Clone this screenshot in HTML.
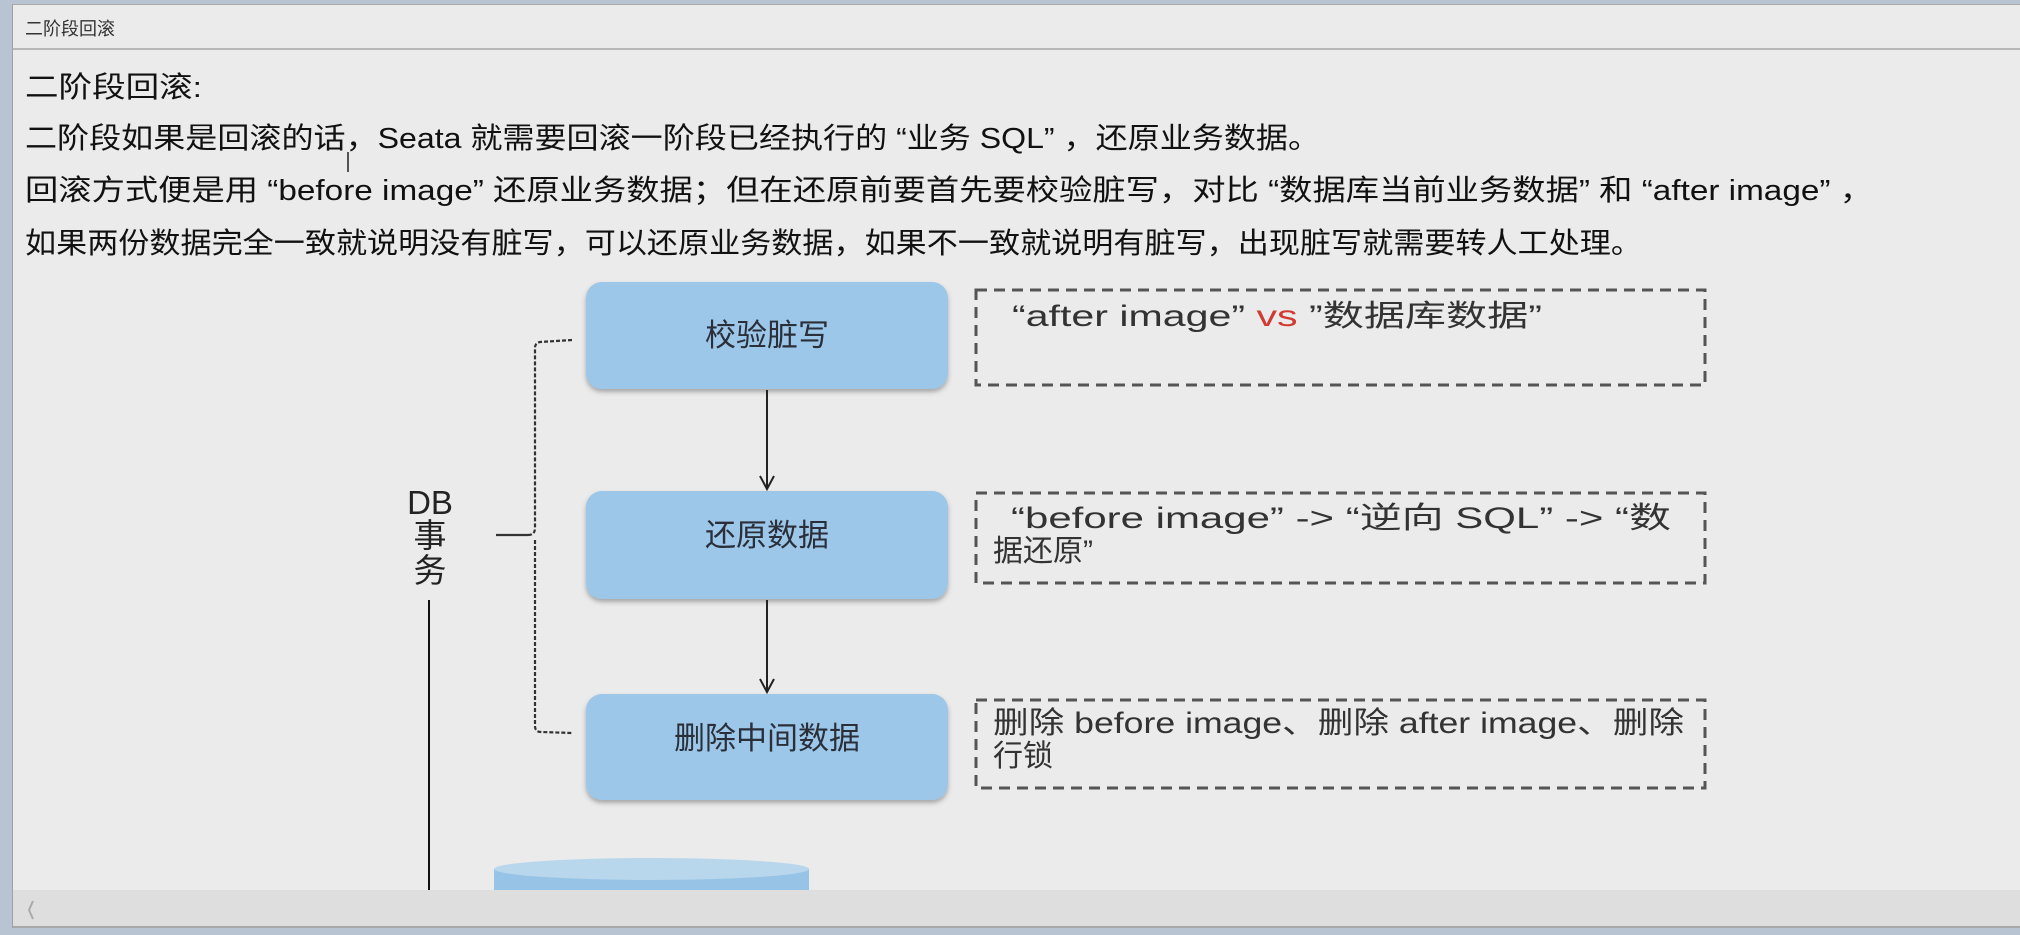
<!DOCTYPE html>
<html><head><meta charset="utf-8"><style>
html,body{margin:0;padding:0;width:2020px;height:935px;overflow:hidden;background:#b9c4d2;}
svg{display:block}
</style></head><body>
<svg width="2020" height="935" viewBox="0 0 2020 935" xmlns="http://www.w3.org/2000/svg" font-family="'Liberation Sans','Noto Sans CJK SC',sans-serif">
<defs>
<filter id="sh" x="-5%" y="-10%" width="110%" height="130%"><feDropShadow dx="0" dy="3" stdDeviation="2.5" flood-color="#555" flood-opacity="0.45"/></filter>
</defs>
<rect x="0" y="0" width="2020" height="935" fill="#b9c4d2"/>
<rect x="12" y="4" width="2008" height="924" fill="#ebebeb"/>
<line x1="12" y1="4.5" x2="2020" y2="4.5" stroke="#a9a9a9"/>
<line x1="12.5" y1="4" x2="12.5" y2="928" stroke="#a0a0a0"/>
<line x1="12" y1="49" x2="2020" y2="49" stroke="#a8a8a8" stroke-width="1.5"/>
<text x="25" y="35" font-size="18" fill="#333">二阶段回滚</text>
<g font-size="29" fill="#111">
<text x="25" y="97" textLength="177" lengthAdjust="spacingAndGlyphs">二阶段回滚:</text>
<text x="25" y="148" textLength="1295" lengthAdjust="spacingAndGlyphs">二阶段如果是回滚的话，Seata 就需要回滚一阶段已经执行的 “业务 SQL” ，还原业务数据。</text>
<text x="25" y="200" textLength="1848" lengthAdjust="spacingAndGlyphs">回滚方式便是用 “before image” 还原业务数据；但在还原前要首先要校验脏写，对比 “数据库当前业务数据” 和  “after image” ，</text>
<text x="25" y="253" textLength="1617" lengthAdjust="spacingAndGlyphs">如果两份数据完全一致就说明没有脏写，可以还原业务数据，如果不一致就说明有脏写，出现脏写就需要转人工处理。</text>
</g>
<line x1="348" y1="152" x2="348" y2="172" stroke="#222" stroke-width="1.5"/>
<g filter="url(#sh)" fill="#9cc7e9">
<rect x="586" y="282" width="362" height="107" rx="16"/>
<rect x="586" y="491" width="362" height="108" rx="16"/>
<rect x="586" y="694" width="362" height="106" rx="16"/>
</g>
<g font-size="31" fill="#2a2f3a" text-anchor="middle">
<text x="767" y="346">校验脏写</text>
<text x="767" y="546">还原数据</text>
<text x="767" y="749">删除中间数据</text>
</g>
<g stroke="#222" stroke-width="2" fill="none">
<line x1="767" y1="390" x2="767" y2="488"/>
<polyline points="760,476 767,489 774,476"/>
<line x1="767" y1="600" x2="767" y2="691"/>
<polyline points="760,679 767,692 774,679"/>
</g>
<g stroke="#555" stroke-width="3" stroke-dasharray="11,7" fill="none">
<rect x="976" y="290" width="729" height="95"/>
<rect x="976" y="493" width="729" height="90"/>
<rect x="976" y="700" width="729" height="88"/>
</g>
<g font-size="30" fill="#333">
<text x="1012" y="326" textLength="530" lengthAdjust="spacingAndGlyphs">“after  image”   <tspan fill="#d23a32">vs</tspan> ”数据库数据”</text>
<text x="1011" y="528" textLength="660" lengthAdjust="spacingAndGlyphs">“before image” -&gt; “逆向 SQL” -&gt; “数</text>
<text x="993" y="561">据还原”</text>
<text x="993" y="733" textLength="691" lengthAdjust="spacingAndGlyphs">删除 before image、删除 after image、删除</text>
<text x="993" y="766">行锁</text>
</g>
<path d="M572,340 L540,342 Q535,343 535,348 L535,528 Q535,535 528,535 M535,540 L535,726 Q535,732 541,732 L572,733" stroke="#333" stroke-width="2.2" stroke-dasharray="4,2" fill="none"/>
<line x1="496" y1="535" x2="528" y2="535" stroke="#333" stroke-width="2.2"/>
<g font-size="33" fill="#222" text-anchor="middle">
<text x="430" y="514">DB</text>
<text x="430" y="547">事</text>
<text x="430" y="582">务</text>
</g>
<line x1="429" y1="600" x2="429" y2="890" stroke="#111" stroke-width="2"/>
<rect x="494" y="869" width="315" height="21" fill="#96c3e6"/>
<ellipse cx="651.5" cy="869" rx="157.5" ry="11" fill="#b8d6ec"/>
<rect x="13" y="890" width="2007" height="37" fill="#dedede"/>
<line x1="13" y1="927" x2="2020" y2="927" stroke="#a8a8a8" stroke-width="2"/>
<polyline points="33,901 29,910 33,919" stroke="#aaa" stroke-width="2" fill="none"/>
</svg>
</body></html>
